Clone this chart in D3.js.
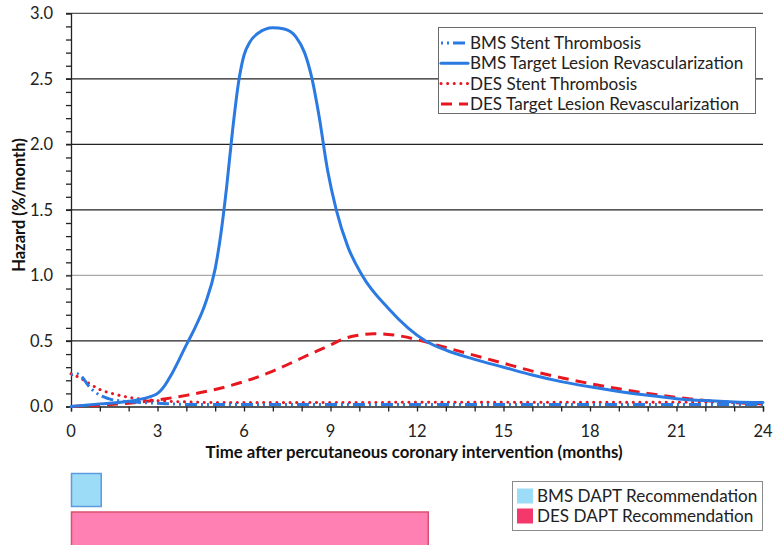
<!DOCTYPE html>
<html>
<head>
<meta charset="utf-8">
<script src="https://cdn.jsdelivr.net/npm/d3@7"></script>
<style>
  html, body { margin: 0; padding: 0; background: #fff; }
  svg { display: block; font-family: Lato, "Open Sans", sans-serif; }
</style>
</head>
<body>
<svg id="chart" width="778" height="545"></svg>
<script>
// Hazard curves (months after PCI, %/month)
const bmsStMonths = [0, 0.2, 0.4, 0.6, 0.9, 1.3, 1.8, 2.5, 3, 4, 6, 9, 12, 15, 18, 21, 24];
const bmsStValues = [0.24, 0.25, 0.22, 0.16, 0.1, 0.06, 0.04, 0.03, 0.025, 0.016, 0.015, 0.015, 0.015, 0.015, 0.015, 0.015, 0.015];

const bmsTlrMonths = [0, 1, 2, 2.5, 3, 3.25, 3.5, 4, 4.3, 4.65, 5.0, 5.2, 5.4, 5.6, 5.83, 6.0, 6.2, 6.5, 7, 7.4, 7.8, 8.1, 8.36, 8.6, 8.9, 9.2, 9.6, 10.1, 11, 12.3, 13, 14, 15, 16, 17, 18, 19, 20, 21, 22, 23, 24];
const bmsTlrValues = [0, 0.02, 0.04, 0.06, 0.1, 0.16, 0.25, 0.47, 0.6, 0.78, 1.05, 1.32, 1.68, 2.1, 2.5, 2.68, 2.78, 2.85, 2.89, 2.88, 2.82, 2.7, 2.5, 2.22, 1.8, 1.5, 1.22, 1.0, 0.75, 0.5, 0.43, 0.36, 0.3, 0.24, 0.19, 0.15, 0.115, 0.085, 0.06, 0.045, 0.035, 0.03];

const desStMonths = [0, 0.3, 0.6, 1, 1.5, 2, 2.5, 3, 4, 5, 8, 12, 16, 20, 24];
const desStValues = [0.25, 0.22, 0.18, 0.13, 0.095, 0.07, 0.055, 0.045, 0.035, 0.03, 0.03, 0.032, 0.033, 0.033, 0.03];

const desTlrMonths = [0, 1, 2, 3, 4, 5, 6, 7, 8, 9, 9.5, 10, 10.5, 11, 11.5, 12, 13, 14, 15, 16, 17, 18, 19, 20, 21, 22, 23, 24];
const desTlrValues = [0, 0.01, 0.025, 0.05, 0.085, 0.13, 0.19, 0.27, 0.37, 0.47, 0.52, 0.545, 0.555, 0.55, 0.535, 0.51, 0.45, 0.39, 0.33, 0.27, 0.22, 0.175, 0.135, 0.1, 0.07, 0.045, 0.03, 0.02];

const seriesNames = ["BMS Stent Thrombosis", "BMS Target Lesion Revascularization", "DES Stent Thrombosis", "DES Target Lesion Revascularization"];

// Recommended dual antiplatelet therapy duration (months)
const daptNames = ["BMS DAPT Recommendation", "DES DAPT Recommendation"];
const daptMonths = [1, 12];

const xTickLabels = [0, 3, 6, 9, 12, 15, 18, 21, 24];
const yTickLabels = [0.0, 0.5, 1.0, 1.5, 2.0, 2.5, 3.0];

const svg = d3.select("#chart");
const blue = "#2a7ae2", red = "#e8171f";

const x = d3.scaleLinear().domain([0, 24]).range([71, 763]);
const y = d3.scaleLinear().domain([0, 3]).range([406.5, 13.3]);

// Horizontal grid lines
svg.append("g").selectAll("line").data(yTickLabels.slice(1)).join("line")
  .attr("x1", 66).attr("x2", x(24))
  .attr("y1", d => y(d)).attr("y2", d => y(d))
  .attr("stroke", d => d === 1.0 ? "#a8a8a8" : (d === 3.0 ? "#555" : "#222"))
  .attr("stroke-width", 1.3);

// Y axis with minor ticks every 0.1
const yAxis = d3.axisLeft(y).tickValues(d3.range(0, 3.001, 0.1)).tickSize(5).tickFormat("");
const gy = svg.append("g").attr("transform", `translate(${x(0)},0)`).call(yAxis);
gy.select(".domain").attr("stroke", "#222").attr("stroke-width", 1.3);
gy.selectAll(".tick line").attr("stroke", "#222").attr("stroke-width", 1.3);

svg.append("g").selectAll("text").data(yTickLabels).join("text")
  .attr("x", 53).attr("y", d => y(d)).attr("dy", "0.35em")
  .attr("text-anchor", "end").attr("font-size", 16.5).attr("fill", "#222")
  .text(d => d.toFixed(1));

// X axis with ticks every month
const xAxis = d3.axisBottom(x).tickValues(d3.range(0, 25, 1)).tickSize(5).tickFormat("");
const gx = svg.append("g").attr("transform", `translate(0,${y(0)})`).call(xAxis);
gx.select(".domain").attr("stroke", "#222").attr("stroke-width", 1.3);
gx.selectAll(".tick line").attr("stroke", "#222").attr("stroke-width", 1.3);

svg.append("g").selectAll("text").data(xTickLabels).join("text")
  .attr("x", d => x(d)).attr("y", 431).attr("dy", "0.35em")
  .attr("text-anchor", "middle").attr("font-size", 16.5).attr("fill", "#222")
  .text(d => d);

// Axis titles
svg.append("text").attr("x", 414).attr("y", 452).attr("dy", "0.35em")
  .attr("text-anchor", "middle").attr("font-size", 16.8).attr("font-weight", "bold").attr("fill", "#111")
  .text("Time after percutaneous coronary intervention (months)");
svg.append("text").attr("transform", "translate(19,205) rotate(-90)").attr("dy", "0.35em")
  .attr("text-anchor", "middle").attr("font-size", 16.5).attr("font-weight", "bold").attr("fill", "#111")
  .text("Hazard (%/month)");

// Line styles per series
const styles = [
  { color: blue, dash: "2,4,2,4,12,4", cap: "butt" },
  { color: blue, dash: null, cap: "round" },
  { color: red, dash: "0.1,6.5", cap: "round" },
  { color: red, dash: "11,7", cap: "butt" }
];
const seriesData = [
  d3.zip(bmsStMonths, bmsStValues),
  d3.zip(bmsTlrMonths, bmsTlrValues),
  d3.zip(desStMonths, desStValues),
  d3.zip(desTlrMonths, desTlrValues)
];

const line = d3.line().x(d => x(d[0])).y(d => y(d[1])).curve(d3.curveMonotoneX);
const drawOrder = [3, 2, 0, 1];
svg.append("g").selectAll("path").data(drawOrder).join("path")
  .attr("d", i => line(seriesData[i]))
  .attr("fill", "none")
  .attr("stroke", i => styles[i].color)
  .attr("stroke-width", 3)
  .attr("stroke-linecap", i => styles[i].cap)
  .attr("stroke-linejoin", "round")
  .attr("stroke-dasharray", i => styles[i].dash);

// Legend for hazard curves
const lg = svg.append("g");
lg.append("rect").attr("x", 438.5).attr("y", 27.5).attr("width", 317).attr("height", 86)
  .attr("fill", "#fff").attr("stroke", "#6a6a6a").attr("stroke-width", 1);
seriesNames.forEach((name, i) => {
  const ly = 43 + i * 20.3;
  lg.append("line").attr("x1", 441).attr("x2", 468).attr("y1", ly).attr("y2", ly)
    .attr("stroke", styles[i].color).attr("stroke-width", 3)
    .attr("stroke-linecap", styles[i].cap)
    .attr("stroke-dasharray", styles[i].dash);
  lg.append("text").attr("x", 470).attr("y", ly).attr("dy", "0.35em")
    .attr("font-size", 17.1).attr("fill", "#222").text(name);
});

// DAPT duration bars
const xb = d3.scaleLinear().domain([0, 24]).range([71.5, 785]);
const daptBands = [
  { y: 473.5, h: 33, fill: "#9cdcf6", stroke: "#5b9be0" },
  { y: 512, h: 34, fill: "#ff80b2", stroke: "#d9506e" }
];
svg.append("g").selectAll("rect").data(daptMonths).join("rect")
  .attr("x", xb(0)).attr("y", (d, i) => daptBands[i].y)
  .attr("width", d => xb(d) - xb(0)).attr("height", (d, i) => daptBands[i].h)
  .attr("fill", (d, i) => daptBands[i].fill)
  .attr("stroke", (d, i) => daptBands[i].stroke).attr("stroke-width", 1.5);

// Legend for DAPT bars
const lg2 = svg.append("g");
lg2.append("rect").attr("x", 512.5).attr("y", 481.5).attr("width", 250).attr("height", 49)
  .attr("fill", "#fff").attr("stroke", "#8a8a8a").attr("stroke-width", 1);
const swatchColors = ["#9cdcf6", "#f5386c"];
daptNames.forEach((name, i) => {
  const ly = 496 + i * 20;
  lg2.append("rect").attr("x", 517).attr("y", ly - 7.5).attr("width", 16).attr("height", 15)
    .attr("fill", swatchColors[i]);
  lg2.append("text").attr("x", 537).attr("y", ly).attr("dy", "0.35em")
    .attr("font-size", 17.1).attr("fill", "#222").text(name);
});
</script>
</body>
</html>
